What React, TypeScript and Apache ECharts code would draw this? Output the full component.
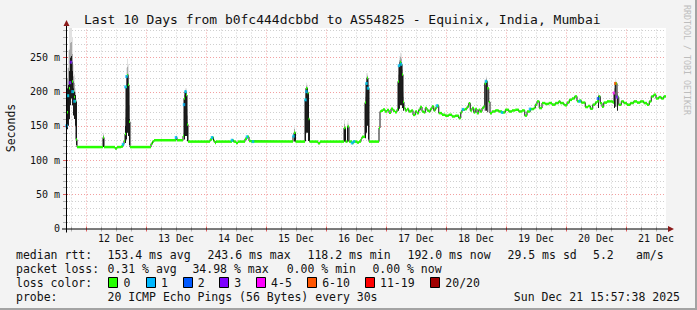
import React, { useEffect, useRef } from 'react';
import * as echarts from 'echarts';

// ---------- data ----------
const TITLE = 'Last 10 Days from b0fc444dcbbd to AS54825 - Equinix, India, Mumbai';
const Y_NAME = 'Seconds';
const WATERMARK = 'RRDTOOL / TOBI OETIKER';

// x axis: hours since Dec 11 16:00 (10 days shown)
const X_MAX = 240;
const Y_MAX = 293;
const FIRST_MIDNIGHT = 8; // 12 Dec 00:00
const FIRST_NOON = 20; // 12 Dec 12:00 (label position)
const dayLabels = ['12 Dec', '13 Dec', '14 Dec', '15 Dec', '16 Dec', '17 Dec', '18 Dec', '19 Dec', '20 Dec', '21 Dec'];

// median RTT (ms); each value holds until the next sample hour
const medianRtt: [number, number][] = [
  [0, 150], [0.4, 170], [0.8, 194], [1.2, 205], [1.6, 213], [2.0, 243], [2.4, 215], [2.8, 200], [3.2, 192], [3.6, 186],
  [4.0, 130], [4.4, 119], [14.8, 133], [15.2, 119], [19.6, 117], [20.4, 119], [22.0, 120], [22.8, 123], [23.2, 128],
  [23.6, 138], [24.0, 207], [24.4, 224], [24.8, 210], [25.2, 156], [25.6, 119], [34.0, 124], [34.6, 127], [35.2, 129],
  [44.0, 133], [44.4, 129], [46.8, 135], [47.2, 190], [47.6, 200], [48.0, 195], [48.4, 152], [48.8, 127], [57.6, 130],
  [58.4, 133], [59.0, 128], [59.6, 125], [60.0, 127], [66.4, 129], [67.0, 127], [68.0, 125], [68.8, 127], [71.6, 131],
  [72.4, 134], [73.2, 128], [74.0, 127], [90.8, 135], [91.2, 140], [91.8, 127], [95.6, 188], [96.0, 205], [96.6, 198],
  [97.0, 160], [97.4, 127], [100.8, 124.5], [101.6, 127], [111.2, 147], [111.8, 127], [112.6, 149], [113.2, 127],
  [114.4, 125], [115.0, 127], [116.4, 125.5], [117.2, 127], [118.0, 131], [118.4, 134], [119.6, 184], [120.0, 212],
  [120.4, 220], [120.8, 205], [121.2, 127], [125.2, 147], [125.6, 171], [126.0, 172], [126.8, 174], [127.6, 171],
  [128.4, 173], [129.2, 169], [130.0, 175], [130.8, 172], [131.6, 170], [132.4, 174], [132.8, 215], [133.2, 238],
  [133.6, 243], [134.0, 240], [134.4, 225], [134.8, 185], [135.2, 176], [135.7, 172.5], [136.4, 174.5], [137.1, 171],
  [138.1, 172.5], [138.8, 166], [139.7, 171], [140.4, 168.6], [141.1, 173.5], [141.7, 177.5], [142.4, 171],
  [143.1, 169.6], [143.7, 176], [144.4, 172.5], [145.1, 171], [145.7, 174.5], [146.4, 178.4], [147.1, 172.5],
  [147.7, 176], [148.4, 179.4], [149.1, 168.6], [150.4, 166.2], [151.7, 164.8], [153.1, 166.2], [154.4, 163.7],
  [155.7, 164.8], [157.1, 161.4], [157.9, 169.6], [158.4, 173.5], [159.5, 174.5], [160.4, 178], [161.1, 183],
  [161.7, 172.5], [162.4, 176], [163.1, 169.6], [163.7, 174.5], [164.4, 168.6], [165.1, 173.5], [165.7, 171],
  [166.4, 176], [167.1, 178.4], [167.5, 212], [168.0, 215], [168.5, 205], [169.1, 185], [169.6, 168.6], [170.4, 171],
  [171.7, 172.5], [173.1, 171], [174.4, 169.6], [175.7, 173.5], [177.1, 171], [178.4, 172.5], [179.7, 173.5],
  [181.1, 171], [182.4, 172.5], [183.5, 165], [184.4, 171], [185.7, 174.5], [187.1, 176], [187.7, 181], [188.4, 185.7],
  [189.3, 176], [190.4, 183.3], [191.7, 182], [193.1, 183.3], [194.4, 181], [195.7, 183.3], [197.1, 185.7],
  [197.7, 183.3], [199.1, 181], [199.5, 180], [200.4, 184], [201.3, 188], [202.4, 190], [203.5, 193], [204.4, 186],
  [205.3, 187], [206.1, 184], [207.1, 184], [207.7, 177.5], [208.8, 179], [209.7, 175], [210.7, 181], [211.7, 184],
  [212.4, 186], [213.1, 193], [213.7, 183], [214.4, 178], [215.1, 184], [216.4, 185.7], [217.7, 185.7], [218.7, 184],
  [219.2, 198], [219.7, 212], [220.4, 192], [221.1, 180.8], [222.1, 185.7], [223.1, 183.3], [224.4, 180.8],
  [225.7, 183.3], [227.1, 185.7], [228.4, 184], [229.7, 185.7], [231.1, 183.3], [232.4, 180.8], [233.3, 185.7],
  [234.1, 193], [235.1, 195.5], [236.0, 190], [237.1, 192], [238.1, 190], [239.1, 193], [240.0, 192],
];

// samples with packet loss: [hour, ms, loss class index]
const lossMarks: [number, number, number][] = [
  [0.2, 150, 1], [0.8, 194, 1], [1.6, 213, 3], [2.0, 243, 3], [2.6, 200, 1], [3.4, 186, 1],
  [22.8, 123, 1], [23.8, 207, 1], [24.2, 222, 1], [44.0, 133, 1], [47.2, 181, 1], [47.8, 200, 1],
  [58.4, 133, 1], [66.4, 129, 1], [72.4, 134, 1], [74.8, 127, 1], [91.0, 135, 1], [95.8, 188, 1],
  [96.2, 200, 1], [114.4, 125, 1], [115.2, 127, 1], [120.2, 212, 1], [120.8, 205, 1], [133.2, 238, 1],
  [134.0, 240, 1], [148.4, 179.4, 1], [158.8, 174, 1], [168.0, 215, 1], [174.4, 169.6, 1], [185.6, 174.5, 1],
  [205.4, 185.7, 1], [212.8, 190, 2], [219.2, 198, 4], [219.7, 212, 5], [220.4, 192, 3],
];

// smoke (ping spread): [hour, dark low, dark high, light top]
const smoke: [number, number, number, number][] = [
  [0.0, 140, 200, 215], [0.4, 145, 205, 235], [0.8, 150, 210, 260], [1.2, 160, 230, 293], [1.6, 180, 250, 293],
  [2.0, 190, 252, 293], [2.4, 180, 230, 280], [2.8, 165, 205, 240], [3.2, 160, 200, 225], [3.6, 150, 195, 205],
  [4.0, 122, 185, 190], [14.8, 119, 134, 140], [23.6, 125, 150, 175], [24.0, 130, 210, 235], [24.4, 140, 225, 248],
  [24.8, 135, 212, 240], [25.2, 122, 160, 200], [47.2, 130, 190, 200], [47.6, 135, 200, 205], [48.0, 135, 196, 205],
  [48.4, 128, 155, 175], [91.2, 127, 140, 151], [95.6, 128, 190, 205], [96.0, 140, 205, 213], [96.4, 140, 200, 210],
  [96.8, 128, 165, 190], [111.2, 127, 147, 159], [112.6, 127, 149, 158], [119.6, 132, 185, 200], [120.0, 140, 215, 227],
  [120.4, 150, 220, 227], [120.8, 130, 205, 215], [132.8, 172, 215, 235], [133.2, 175, 240, 252], [133.6, 180, 245, 257],
  [134.0, 180, 242, 255], [134.4, 176, 225, 240], [134.8, 172, 185, 200], [167.5, 172, 212, 218], [168.0, 172, 217, 222],
  [168.5, 170, 205, 215], [212.8, 176, 193, 198], [219.2, 176, 200, 210], [219.7, 178, 212, 218], [220.4, 172, 192, 200],
];

const lossColors = ['#26ff00', '#00b8ff', '#0059ff', '#7e00ff', '#ff00ff', '#ff5500', '#ff0000', '#a10000'];
const lossLabels = ['0', '1', '2', '3', '4-5', '6-10', '11-19', '20/20'];

const rttStats = ['153.4 ms avg', '243.6 ms max', '118.2 ms min', '192.0 ms now', '29.5 ms sd', '5.2', 'am/s'];
const lossStats = ['0.31 % avg', '34.98 % max', '0.00 % min', '0.00 % now'];
const probeText = '20 ICMP Echo Pings (56 Bytes) every 30s';
const dateText = 'Sun Dec 21 15:57:38 2025';

// ---------- layout ----------
const W = 697;
const H = 310;
const G_LEFT = 66;
const G_TOP = 28;
const G_RIGHT = 31;
const G_BOTTOM = 81.5;
const AXIS_Y = H - G_BOTTOM;
const AXIS_X = G_LEFT;
const MONO = '"DejaVu Sans Mono", monospace';
const TXT = '#111';
const MINOR = '#cfcfcf';
const MAJOR = '#f2a0a0';

const rttX = [107.5, 207.5, 307.5, 407.5, 507.5, 593, 636];
const lossX = [107.5, 192.4, 286.7, 372.4];
const lossLabelX = [123.6, 160.9, 197.8, 234.2, 271.1, 322.2, 380, 445.3];
const ROW_Y = [254.5, 268.5, 282.5, 296.5];

export default function App() {
  const ref = useRef<HTMLDivElement>(null);

  useEffect(() => {
    if (!ref.current) return;
    const chart = echarts.init(ref.current, null, { renderer: 'svg' });

    const gridItems: [number, number][] = [];
    for (let h = 2; h < X_MAX; h += 6) gridItems.push([h, (h - FIRST_MIDNIGHT) % 24 === 0 ? 1 : 0]);
    for (let v = 10; v < Y_MAX; v += 10) gridItems.push([v, v % 50 === 0 ? 3 : 2]);

    const txt = (x: number, y: number, text: string, extra: any = {}) => ({
      type: 'text',
      x,
      y,
      z: 50,
      style: { text, fill: TXT, font: `11.5px ${MONO}`, verticalAlign: 'middle', align: 'left', ...extra },
    });

    const graphics: any[] = [
      // frame shading
      { type: 'rect', z: 60, shape: { x: W - 2, y: 0, width: 2, height: H }, style: { fill: '#a3a3a3' } },
      { type: 'rect', z: 60, shape: { x: 0, y: H - 2, width: W, height: 2 }, style: { fill: '#a3a3a3' } },
      // title
      txt(84, 19, TITLE, { font: `13px ${MONO}` }),
      // y axis name
      {
        type: 'text', x: 10.5, y: 128, rotation: Math.PI / 2, z: 50,
        style: { text: Y_NAME, fill: TXT, font: `11.5px ${MONO}`, align: 'center', verticalAlign: 'middle' },
      },
      // watermark
      {
        type: 'text', x: 687, y: 60, rotation: -Math.PI / 2, z: 50,
        style: { text: WATERMARK, fill: '#bdbdbd', font: `8.3px ${MONO}`, align: 'center', verticalAlign: 'middle' },
      },
      // axes
      { type: 'line', z: 60, shape: { x1: AXIS_X + 0.5, y1: AXIS_Y + 4, x2: AXIS_X + 0.5, y2: 24 }, style: { stroke: '#000', lineWidth: 1 } },
      { type: 'polygon', z: 61, shape: { points: [[AXIS_X + 0.5, 20], [AXIS_X - 2.5, 26], [AXIS_X + 3.5, 26]] }, style: { fill: '#8b1a1a' } },
      { type: 'line', z: 60, shape: { x1: AXIS_X - 4, y1: AXIS_Y + 0.5, x2: 669, y2: AXIS_Y + 0.5 }, style: { stroke: '#000', lineWidth: 1 } },
      { type: 'polygon', z: 61, shape: { points: [[674, AXIS_Y + 0.5], [668, AXIS_Y - 2.5], [668, AXIS_Y + 3.5]] }, style: { fill: '#8b1a1a' } },
      // legend rows
      txt(16, ROW_Y[0], 'median rtt:'),
      ...rttStats.map((s, i) => txt(rttX[i], ROW_Y[0], s)),
      txt(16, ROW_Y[1], 'packet loss:'),
      ...lossStats.map((s, i) => txt(lossX[i], ROW_Y[1], s)),
      txt(16, ROW_Y[2], 'loss color:'),
      ...lossLabels.map((s, i) => txt(lossLabelX[i], ROW_Y[2], s)),
      ...lossColors.map((c, i) => ({
        type: 'rect', z: 50,
        shape: { x: Math.round(lossLabelX[i] - 15.3) + 0.5, y: ROW_Y[2] - 5, width: 9, height: 10 },
        style: { fill: c, stroke: '#000', lineWidth: 1 },
      })),
      txt(16, ROW_Y[3], 'probe:'),
      txt(107.5, ROW_Y[3], probeText),
      txt(680, ROW_Y[3], dateText, { align: 'right' }),
    ];

    const option: any = {
      animation: false,
      backgroundColor: '#f3f3f3',
      grid: {
        left: G_LEFT, top: G_TOP, right: G_RIGHT, bottom: G_BOTTOM,
        show: true, backgroundColor: '#ffffff', borderWidth: 0,
        outerBoundsMode: 'none',
      },
      xAxis: {
        type: 'value', min: 0, max: X_MAX, interval: 4,
        axisLine: { show: false }, axisTick: { show: false }, splitLine: { show: false },
        axisLabel: {
          margin: 5, fontFamily: MONO, fontSize: 10, color: TXT,
          showMinLabel: true, showMaxLabel: true,
          formatter: (v: number) => {
            const k = (v - FIRST_NOON) / 24;
            return Number.isInteger(k) && k >= 0 && k < dayLabels.length ? dayLabels[k] : '';
          },
        },
      },
      yAxis: {
        type: 'value', min: 0, max: Y_MAX, interval: 50,
        axisLine: { show: false }, axisTick: { show: false }, splitLine: { show: false },
        axisLabel: {
          margin: 6, fontFamily: MONO, fontSize: 10, color: TXT,
          formatter: (v: number) => (v % 50 !== 0 ? '' : v === 0 ? '0' : `${v} m`),
        },
      },
      graphic: graphics,
      series: [
        {
          type: 'custom', name: 'grid', z: 1, silent: true, clip: false,
          data: gridItems,
          renderItem: (_p: any, api: any) => {
            const pos = api.value(0);
            const kind = api.value(1);
            const major = kind === 1 || kind === 3;
            const color = major ? MAJOR : MINOR;
            const tickColor = major ? '#e06060' : '#b0b0b0';
            if (kind < 2) {
              const a = api.coord([pos, 0]);
              const b = api.coord([pos, Y_MAX]);
              const x = Math.round(a[0]) + 0.5;
              return {
                type: 'group',
                children: [
                  { type: 'line', shape: { x1: x, y1: a[1], x2: x, y2: b[1] }, style: { stroke: color, lineWidth: 1, lineDash: [1, 2] } },
                  { type: 'line', shape: { x1: x, y1: a[1] - 2, x2: x, y2: a[1] + 3 }, style: { stroke: tickColor, lineWidth: 1 } },
                ],
              };
            }
            const a = api.coord([0, pos]);
            const b = api.coord([X_MAX, pos]);
            const y = Math.round(a[1]) + 0.5;
            return {
              type: 'group',
              children: [
                { type: 'line', shape: { x1: a[0], y1: y, x2: b[0], y2: y }, style: { stroke: color, lineWidth: 1, lineDash: [1, 2] } },
                { type: 'line', shape: { x1: a[0] - 3, y1: y, x2: a[0] + 2, y2: y }, style: { stroke: tickColor, lineWidth: 1 } },
              ],
            };
          },
        },
        {
          type: 'custom', name: 'smoke', z: 2, silent: true,
          data: smoke,
          renderItem: (_p: any, api: any) => {
            const h = api.value(0);
            const lo = api.value(1);
            const hi = api.value(2);
            const top = api.value(3);
            const pLo = api.coord([h, lo]);
            const pHi = api.coord([h + 0.4, hi]);
            const pMid = api.coord([h, (hi + top) / 2]);
            const pTop = api.coord([h, top]);
            const x = pLo[0];
            const w = Math.max(1, pHi[0] - pLo[0]);
            return {
              type: 'group',
              children: [
                { type: 'rect', shape: { x, y: pTop[1], width: w, height: pMid[1] - pTop[1] }, style: { fill: '#e2e2e2' } },
                { type: 'rect', shape: { x, y: pMid[1], width: w, height: pHi[1] - pMid[1] }, style: { fill: '#a9a9a9' } },
                { type: 'rect', shape: { x, y: pHi[1], width: w, height: pLo[1] - pHi[1] }, style: { fill: '#1c1c1c' } },
              ],
            };
          },
        },
        {
          type: 'line', name: 'median link', z: 3, silent: true,
          data: medianRtt, step: 'end', symbol: 'none',
          lineStyle: { color: '#141414', width: 1 },
        },
        {
          type: 'custom', name: 'median', z: 4, silent: true,
          data: medianRtt,
          renderItem: (p: any, api: any) => {
            const next = medianRtt[p.dataIndex + 1];
            if (!next) return null;
            const a = api.coord([api.value(0), api.value(1)]);
            const b = api.coord([next[0], api.value(1)]);
            return {
              type: 'rect',
              shape: { x: a[0], y: a[1] - 1.25, width: Math.max(1, b[0] - a[0]), height: 2.5 },
              style: { fill: lossColors[0] },
            };
          },
        },
        {
          type: 'scatter', name: 'loss', z: 5, silent: true,
          symbol: 'rect', symbolSize: [2.5, 3],
          data: lossMarks.map(([h, v, l]) => ({ value: [h, v], itemStyle: { color: lossColors[l] } })),
        },
      ],
    };

    chart.setOption(option);
    return () => chart.dispose();
  }, []);

  return (
    <div
      ref={ref}
      style={{ position: 'fixed', left: 0, top: 0, width: W, height: H }}
    />
  );
}
